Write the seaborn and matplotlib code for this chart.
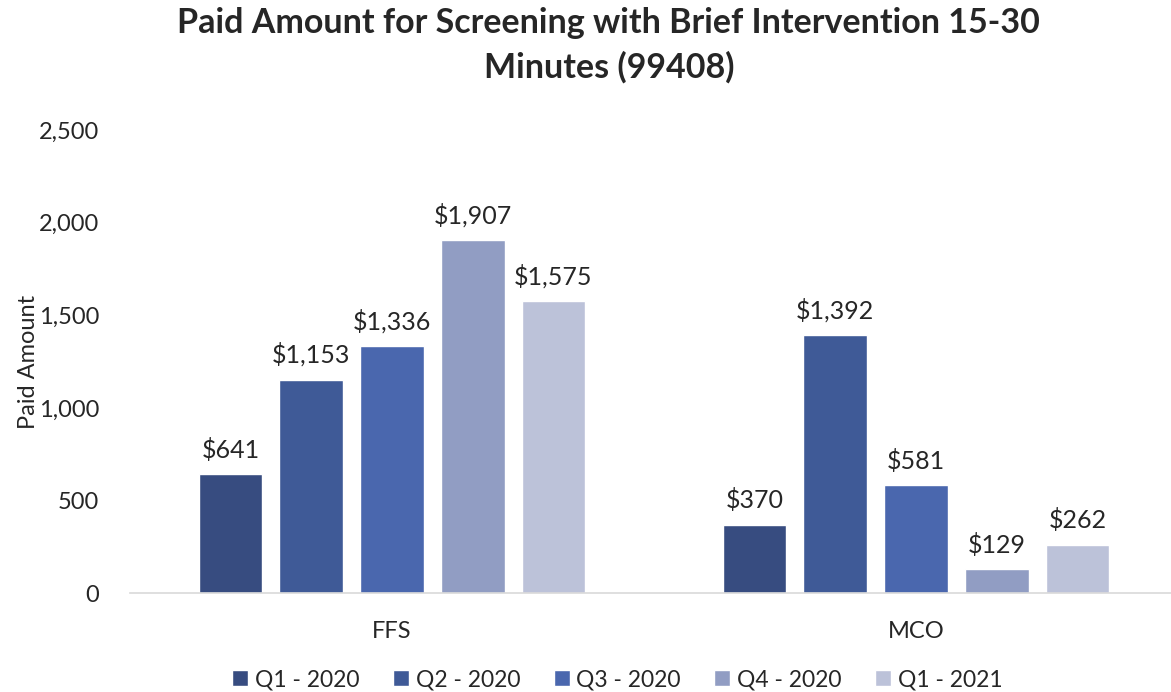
import pandas as pd
import seaborn as sns
import matplotlib.pyplot as plt
from matplotlib.ticker import FuncFormatter

# chart data
groups = ["FFS", "MCO"]
quarters = ["Q1 - 2020", "Q2 - 2020", "Q3 - 2020", "Q4 - 2020", "Q1 - 2021"]
ffs_paid = [641, 1153, 1336, 1907, 1575]
mco_paid = [370, 1392, 581, 129, 262]
colors = ["#374C80", "#3F5A97", "#4A67AE", "#919DC3", "#BCC2D9"]

df = pd.DataFrame({
    "Group": [g for g in groups for _ in quarters],
    "Quarter": quarters * 2,
    "Paid": ffs_paid + mco_paid,
})

sns.set_style("white")
plt.rcParams['font.family'] = ['Lato', 'DejaVu Sans']

fig = plt.figure(figsize=(11.71, 6.92), dpi=100)
ax = fig.add_axes([0.111, 0.143, 0.895, 0.669])

sns.barplot(data=df, x="Group", y="Paid", hue="Quarter", palette=colors, saturation=1,
            width=0.77, gap=0.21, ax=ax, legend=True)

for c in ax.containers:
    ax.bar_label(c, labels=[f"${v:,.0f}" for v in c.datavalues], padding=9, fontsize=18)

ax.set_ylim(0, 2500)
ax.set_yticks([0, 500, 1000, 1500, 2000, 2500])
ax.yaxis.set_major_formatter(FuncFormatter(lambda v, p: f"{v:,.0f}"))
ax.tick_params(axis="both", labelsize=17, length=0)
ax.tick_params(axis="x", pad=20)
ax.tick_params(axis="y", pad=22)
ax.set_xlabel("")
ax.set_ylabel("Paid Amount", fontsize=17, labelpad=0)
for s in ["top", "right", "left"]:
    ax.spines[s].set_visible(False)
ax.spines["bottom"].set_color("#D9D9D9")
ax.spines["bottom"].set_linewidth(1.2)

fig.suptitle("Paid Amount for Screening with Brief Intervention 15-30\nMinutes (99408)",
             fontsize=24.5, fontweight="bold", y=0.99, x=0.52, linespacing=1.45)

ax.legend(loc="upper center", bbox_to_anchor=(0.465, -0.12), ncol=5, frameon=False,
          fontsize=16.5, handlelength=0.7, handleheight=0.7, handletextpad=0.3, columnspacing=1.45)

fig.savefig("out.png", dpi=100)
